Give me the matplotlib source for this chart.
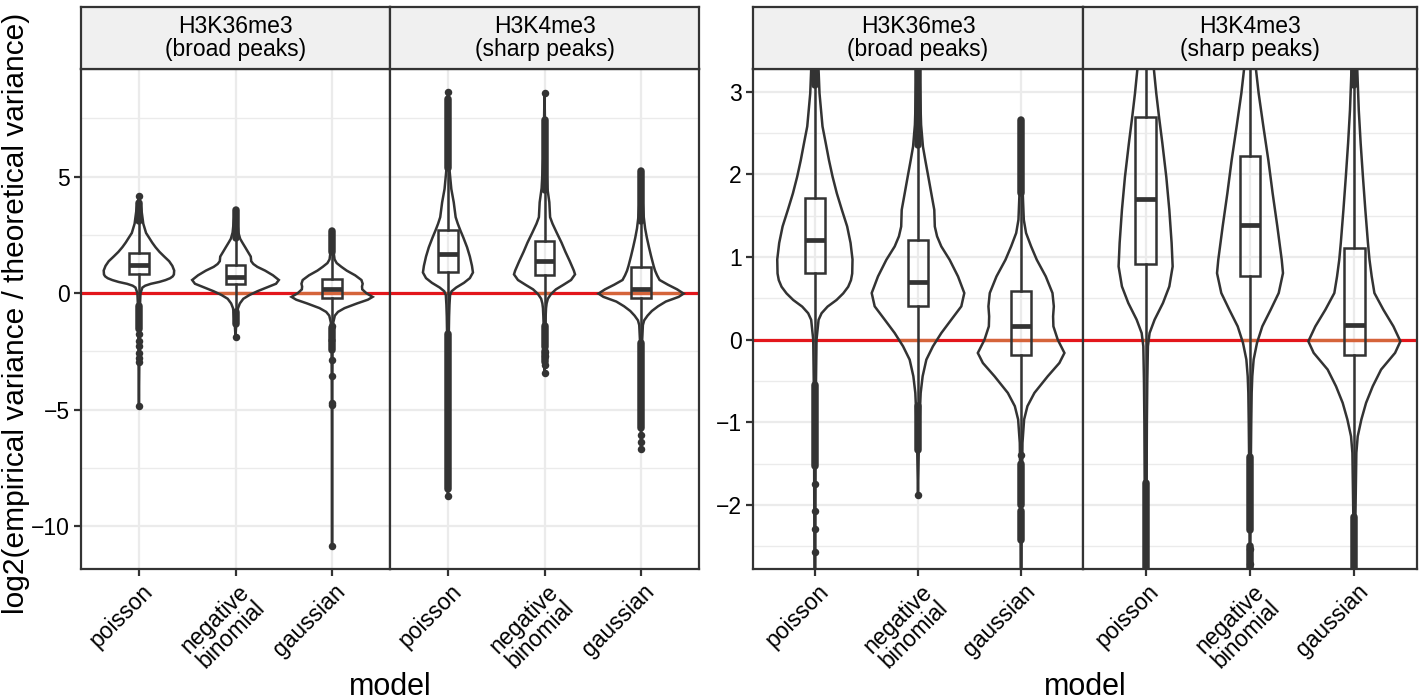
import matplotlib
matplotlib.use("Agg")
import matplotlib.pyplot as plt
from matplotlib.patches import Polygon, Rectangle
import matplotlib.transforms as mtransforms
import numpy as np

plt.rcParams['font.family'] = ['Liberation Sans', 'DejaVu Sans']

facets = ["H3K36me3\n(broad peaks)", "H3K4me3\n(sharp peaks)"]
models = ["poisson", "negative\nbinomial", "gaussian"]

# box stats per model (poisson, negative binomial, gaussian)
k36_q1 = [0.81, 0.41, -0.19]
k36_med = [1.20, 0.70, 0.16]
k36_q3 = [1.72, 1.20, 0.59]
k36_lo = [-0.53, -0.77, -1.36]
k36_hi = [3.05, 2.33, 1.76]

k4_q1 = [0.92, 0.765, -0.19]
k4_med = [1.70, 1.39, 0.18]
k4_q3 = [2.69, 2.22, 1.115]
k4_lo = [-1.72, -1.40, -2.13]
k4_hi = [5.33, 4.40, 3.06]

# violin outlines: level and half width (in category units)
k36_poisson_y = [-4.86, -3.0, -2.0, -1.0, -0.5, 0.0, 0.24, 0.32, 0.40, 0.48, 0.56, 0.64, 0.72, 0.80,
                 0.97, 1.17, 1.37, 1.57, 1.77, 1.97, 2.17, 2.38, 2.58, 2.98, 3.26, 3.6, 3.9, 4.17]
k36_poisson_w = [0.0, 0.004, 0.006, 0.008, 0.011, 0.016, 0.036, 0.065, 0.123, 0.21, 0.275, 0.323, 0.35, 0.362,
                 0.365, 0.346, 0.313, 0.262, 0.213, 0.172, 0.137, 0.105, 0.074, 0.045, 0.036, 0.025, 0.012, 0.0]
k36_nb_y = [-1.88, -1.3, -0.845, -0.644, -0.443, -0.242, -0.08, 0.08, 0.242, 0.403, 0.564, 0.765, 0.966,
            1.128, 1.25, 1.369, 1.57, 1.77, 1.972, 2.17, 2.335, 2.6, 3.0, 3.3, 3.57]
k36_nb_w = [0.0, 0.008, 0.019, 0.026, 0.045, 0.081, 0.145, 0.226, 0.323, 0.42, 0.449, 0.388, 0.307,
            0.226, 0.185, 0.163, 0.158, 0.129, 0.10, 0.071, 0.048, 0.03, 0.02, 0.012, 0.0]
k36_gauss_y = [-10.86, -6.0, -4.0, -2.5, -1.8, -1.25, -0.966, -0.805, -0.644, -0.443, -0.282, -0.161, 0.0,
               0.161, 0.282, 0.403, 0.564, 0.765, 0.966, 1.128, 1.29, 1.45, 1.8, 2.2, 2.66]
k36_gauss_w = [0.0, 0.002, 0.003, 0.005, 0.008, 0.013, 0.029, 0.061, 0.129, 0.258, 0.371, 0.42, 0.355,
               0.313, 0.31, 0.317, 0.304, 0.239, 0.152, 0.097, 0.048, 0.026, 0.015, 0.01, 0.0]

k4_poisson_y = [-8.72, -5.0, -2.0, -1.0, -0.5, -0.08, 0.08, 0.242, 0.443, 0.644, 0.886, 1.17, 1.57, 1.97,
                2.38, 2.70, 2.98, 3.26, 3.9, 4.47, 5.35, 6.5, 8.64]
k4_poisson_w = [0.0, 0.003, 0.008, 0.012, 0.016, 0.022, 0.038, 0.086, 0.166, 0.227, 0.259, 0.249, 0.227, 0.198,
                0.160, 0.128, 0.102, 0.080, 0.06, 0.035, 0.015, 0.006, 0.0]
k4_nb_y = [-3.42, -2.5, -1.5, -1.0, -0.644, -0.443, -0.24, -0.04, 0.161, 0.362, 0.564, 0.805, 0.966,
           1.369, 1.77, 2.17, 2.58, 2.98, 3.26, 3.9, 4.5, 6.0, 8.61]
k4_nb_w = [0.0, 0.004, 0.008, 0.012, 0.016, 0.022, 0.035, 0.067, 0.118, 0.198, 0.275, 0.316, 0.304,
           0.262, 0.217, 0.176, 0.128, 0.083, 0.058, 0.05, 0.03, 0.01, 0.0]
k4_gauss_y = [-6.67, -4.0, -2.15, -1.37, -1.17, -0.966, -0.765, -0.564, -0.362, -0.16, -0.02, 0.161, 0.362,
              0.564, 0.765, 0.966, 1.17, 1.57, 1.97, 2.38, 2.78, 3.26, 4.0, 5.26]
k4_gauss_w = [0.0, 0.004, 0.01, 0.019, 0.032, 0.067, 0.112, 0.176, 0.256, 0.39, 0.441, 0.374, 0.278,
              0.192, 0.166, 0.145, 0.13, 0.105, 0.082, 0.06, 0.042, 0.028, 0.015, 0.0]

# outliers: dense runs (low, high) and single points
k36_poisson_runs = [(3.08, 3.86), (-1.53, -0.55)]
k36_poisson_pts = [4.17, -1.75, -2.07, -2.29, -2.57, -2.8, -2.97, -4.86]
k36_nb_runs = [(2.36, 3.57), (-1.33, -0.80)]
k36_nb_pts = [-1.88]
k36_gauss_runs = [(1.78, 2.66), (-2.0, -1.5), (-2.42, -2.07)]
k36_gauss_pts = [-1.39, -2.86, -3.54, -4.72, -4.8, -10.86]

k4_poisson_runs = [(5.36, 8.33), (-8.4, -1.74)]
k4_poisson_pts = [8.64, -8.72]
k4_nb_runs = [(4.42, 7.45), (-2.3, -1.42), (-2.96, -2.5)]
k4_nb_pts = [8.61, -2.53, -2.71, -3.1, -3.42]
k4_gauss_runs = [(3.08, 5.26), (-5.8, -2.15)]
k4_gauss_pts = [-6.1, -6.4, -6.67]

facet_data = [
    dict(q1=k36_q1, med=k36_med, q3=k36_q3, lo=k36_lo, hi=k36_hi,
         vy=[k36_poisson_y, k36_nb_y, k36_gauss_y], vw=[k36_poisson_w, k36_nb_w, k36_gauss_w],
         runs=[k36_poisson_runs, k36_nb_runs, k36_gauss_runs], pts=[k36_poisson_pts, k36_nb_pts, k36_gauss_pts]),
    dict(q1=k4_q1, med=k4_med, q3=k4_q3, lo=k4_lo, hi=k4_hi,
         vy=[k4_poisson_y, k4_nb_y, k4_gauss_y], vw=[k4_poisson_w, k4_nb_w, k4_gauss_w],
         runs=[k4_poisson_runs, k4_nb_runs, k4_gauss_runs], pts=[k4_poisson_pts, k4_nb_pts, k4_gauss_pts]),
]

DARK = '#333333'
RED = '#E3161B'
ORANGE = '#D5643A'
W, H = 1425, 700
LW = 1.8


def rect(x0, y0, x1, y1):
    return [x0 / W, 1 - y1 / H, (x1 - x0) / W, (y1 - y0) / H]


def draw_facet(ax, d):
    ax.axhline(0, color=RED, lw=2.3, zorder=1.5)
    for i in range(3):
        x = i + 1
        y = np.array(d['vy'][i])
        w = np.array(d['vw'][i])
        verts = np.concatenate([np.column_stack([x - w, y]), np.column_stack([x + w, y])[::-1]])
        poly = Polygon(verts, closed=True, facecolor='none', edgecolor=DARK, lw=LW, zorder=2)
        ax.add_patch(poly)
        seg = ax.axhline(0, color=ORANGE, lw=2.3, zorder=1.6)
        seg.set_clip_path(poly)
        # box
        q1, med, q3 = d['q1'][i], d['med'][i], d['q3'][i]
        ax.add_patch(Rectangle((x - 0.1, q1), 0.2, q3 - q1, fill=False, edgecolor=DARK, lw=LW, zorder=3))
        ax.plot([x - 0.1, x + 0.1], [med, med], color=DARK, lw=3.4, solid_capstyle='butt', zorder=3)
        ax.plot([x, x], [q3, d['hi'][i]], color=DARK, lw=LW, zorder=3)
        ax.plot([x, x], [d['lo'][i], q1], color=DARK, lw=LW, zorder=3)
        for lo, hi in d['runs'][i]:
            ax.plot([x, x], [lo, hi], color=DARK, lw=5.4, solid_capstyle='round', zorder=3)
        ax.plot([x] * len(d['pts'][i]), d['pts'][i], 'o', color=DARK, ms=5.4, mew=0, zorder=3)


fig = plt.figure(figsize=(W / 100, H / 100), dpi=100)

panels = [
    dict(xs=[(81, 390), (390, 699)], ylim=(-11.84, 9.62), major=[-10, -5, 0, 5], minor=[-7.5, -2.5, 2.5, 7.5]),
    dict(xs=[(753, 1083), (1083, 1417)], ylim=(-2.775, 3.275), major=[-2, -1, 0, 1, 2, 3],
         minor=[-2.5, -1.5, -0.5, 0.5, 1.5, 2.5]),
]

for p in panels:
    for fi, (x0, x1) in enumerate(p['xs']):
        ax = fig.add_axes(rect(x0, 69, x1, 569))
        ax.set_xlim(0.4, 3.6)
        ax.set_ylim(*p['ylim'])
        ax.set_xticks([1, 2, 3])
        ax.set_yticks(p['major'])
        ax.set_yticks(p['minor'], minor=True)
        ax.set_yticklabels([str(v).replace('-', '\u2212') for v in p['major']])
        ax.grid(which='major', color='#EBEBEB', lw=1.6)
        ax.grid(which='minor', axis='y', color='#EBEBEB', lw=1.0)
        ax.set_axisbelow(True)
        for s in ax.spines.values():
            s.set_color(DARK)
            s.set_linewidth(1.6)
            s.set_zorder(5)
        ax.tick_params(which='major', direction='out', length=5, width=1.6, color=DARK,
                       labelsize=16.5, labelcolor='black', pad=3)
        ax.tick_params(which='minor', length=0)
        if fi == 1:
            ax.tick_params(axis='y', left=False, labelleft=False)
        labels = ax.set_xticklabels(models, rotation=45, ha='right', va='top',
                                    rotation_mode='anchor', multialignment='right', linespacing=0.95)
        off = mtransforms.ScaledTranslation(2 / 100, 0, fig.dpi_scale_trans)
        for lb in labels:
            lb.set_transform(lb.get_transform() + off)
        draw_facet(ax, facet_data[fi])

        sax = fig.add_axes(rect(x0, 7, x1, 69))
        sax.set_facecolor('#F0F0F0')
        sax.set_xticks([])
        sax.set_yticks([])
        for s in sax.spines.values():
            s.set_color(DARK)
            s.set_linewidth(1.6)
        sax.text(0.5, 0.5, facets[fi], ha='center', va='center', fontsize=16.5,
                 linespacing=1.0, transform=sax.transAxes)

fig.text(16 / W, 1 - 313 / H, "log2(empirical variance / theoretical variance)", rotation=90,
         ha='center', va='center', fontsize=21.5)
fig.text(390 / W, 1 - 695 / H, "model", ha='center', va='baseline', fontsize=22)
fig.text(1085 / W, 1 - 695 / H, "model", ha='center', va='baseline', fontsize=22)

fig.savefig("out.png", dpi=100, facecolor='white')
